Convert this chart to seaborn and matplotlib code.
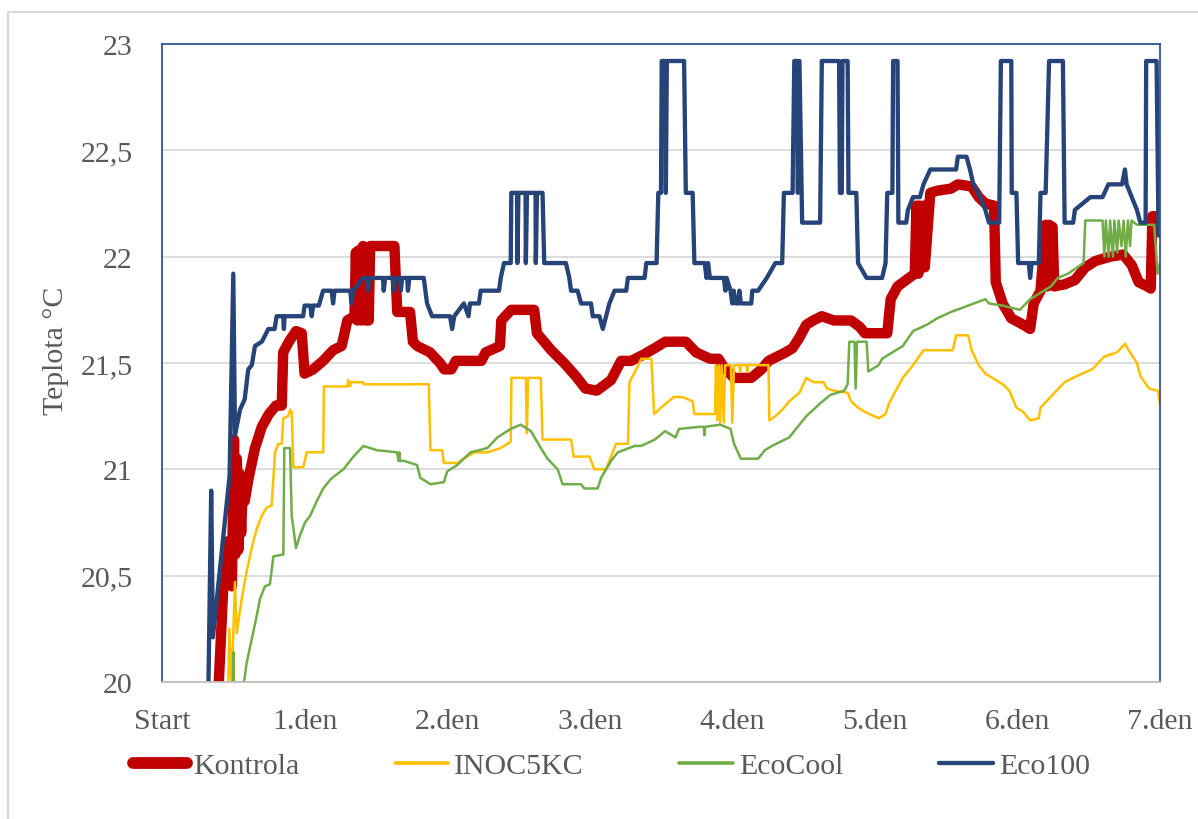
import matplotlib
matplotlib.use("Agg")
import matplotlib.pyplot as plt
import seaborn as sns
import pandas as pd
from matplotlib.lines import Line2D

# ---------------- data ----------------
tick_labels = ["Start", "1.den", "2.den", "3.den", "4.den", "5.den", "6.den", "7.den"]
y_ticks = [20, 20.5, 21, 21.5, 22, 22.5, 23]
y_tick_labels = ["20", "20,5", "21", "21,5", "22", "22,5", "23"]
series_names = ["Kontrola", "INOC5KC", "EcoCool", "Eco100"]

kontrola_day = [0.395, 0.43, 0.45, 0.474, 0.49, 0.505, 0.515, 0.525, 0.535, 0.545, 0.555, 0.565, 0.58,
                0.605, 0.652, 0.70, 0.75, 0.80, 0.84, 0.85, 0.89, 0.94, 0.98, 1.0, 1.06, 1.13, 1.2,
                1.26, 1.30, 1.35, 1.36, 1.37, 1.38, 1.40, 1.41, 1.43, 1.45, 1.46, 1.63, 1.65, 1.74,
                1.76, 1.79, 1.88, 1.95, 1.98, 2.03, 2.06, 2.24, 2.27, 2.37, 2.38, 2.45, 2.61, 2.63,
                2.73, 2.82, 2.90, 2.97, 3.05, 3.15, 3.22, 3.29, 3.38, 3.43, 3.457, 3.53, 3.674,
                3.746, 3.843, 3.903, 3.94, 4.012, 4.133, 4.205, 4.254, 4.374, 4.423, 4.471, 4.519,
                4.568, 4.628, 4.713, 4.833, 4.894, 4.93, 5.087, 5.111, 5.159, 5.22, 5.28, 5.292,
                5.305, 5.315, 5.325, 5.341, 5.35, 5.389, 5.437, 5.534, 5.582, 5.679, 5.728, 5.775,
                5.836, 5.848, 5.896, 5.957, 6.041, 6.089, 6.114, 6.162, 6.198, 6.21, 6.22, 6.246,
                6.258, 6.331, 6.403, 6.476, 6.548, 6.65, 6.742, 6.802, 6.85, 6.911, 6.935, 6.947,
                7.0]
kontrola_temp = [19.95, 20.45, 20.66, 20.66, 20.45, 21.14, 20.6, 21.05, 20.62, 20.98, 20.7, 20.9, 20.85,
                 20.95, 21.1, 21.2, 21.26, 21.3, 21.3, 21.55, 21.6, 21.65, 21.64, 21.45, 21.47, 21.51,
                 21.56, 21.58, 21.70, 21.72, 22.02, 21.70, 22.03, 21.70, 22.05, 21.70, 21.70, 22.05,
                 22.05, 21.74, 21.74, 21.60, 21.58, 21.55, 21.50, 21.47, 21.47, 21.51, 21.51, 21.55,
                 21.58, 21.70, 21.75, 21.75, 21.64, 21.56, 21.50, 21.44, 21.38, 21.37, 21.42, 21.51,
                 21.51, 21.54, 21.56, 21.57, 21.60, 21.60, 21.55, 21.52, 21.52, 21.48, 21.43, 21.43,
                 21.47, 21.51, 21.55, 21.57, 21.62, 21.68, 21.70, 21.72, 21.70, 21.70, 21.67, 21.64,
                 21.64, 21.80, 21.86, 21.89, 21.92, 22.24, 21.92, 22.24, 21.95, 22.24, 21.95, 22.30,
                 22.31, 22.32, 22.34, 22.33, 22.28, 22.25, 22.24, 21.88, 21.78, 21.71, 21.68, 21.66,
                 21.78, 21.84, 22.15, 21.86, 22.15, 22.14, 21.86, 21.87, 21.89, 21.95, 21.98, 22.0,
                 22.01, 21.96, 21.88, 21.86, 21.85, 22.19, 22.19]

inoc_day = [0.465, 0.472, 0.488, 0.512, 0.524, 0.559, 0.594, 0.629, 0.664, 0.699, 0.734, 0.769, 0.793,
            0.816, 0.840, 0.851, 0.886, 0.898, 0.910, 0.921, 0.991, 1.015, 1.131, 1.136, 1.30, 1.305,
            1.32, 1.325, 1.41, 1.415, 1.871, 1.883, 1.965, 1.977, 2.07, 2.141, 2.188, 2.282, 2.376,
            2.446, 2.451, 2.552, 2.559, 2.568, 2.657, 2.669, 2.869, 2.887, 2.998, 3.033, 3.115, 3.138,
            3.185, 3.268, 3.279, 3.326, 3.362, 3.432, 3.452, 3.50, 3.553, 3.589, 3.65, 3.722, 3.734,
            3.879, 3.885, 3.895, 3.905, 3.915, 3.925, 3.94, 3.95, 3.99, 4.0, 4.012, 4.05, 4.055, 4.06,
            4.10, 4.105, 4.11, 4.254, 4.26, 4.302, 4.35, 4.40, 4.471, 4.519, 4.568, 4.640, 4.664, 4.713,
            4.809, 4.833, 4.882, 4.930, 5.027, 5.075, 5.099, 5.147, 5.196, 5.268, 5.341, 5.546, 5.570,
            5.655, 5.679, 5.728, 5.775, 5.824, 5.896, 5.944, 5.993, 6.041, 6.089, 6.150, 6.162, 6.246,
            6.331, 6.452, 6.524, 6.609, 6.698, 6.754, 6.790, 6.838, 6.862, 6.923, 6.983, 7.0]
inoc_temp = [19.98, 20.25, 19.98, 20.47, 20.23, 20.39, 20.52, 20.63, 20.72, 20.78, 20.82, 20.83, 21.08,
             21.12, 21.12, 21.24, 21.25, 21.28, 21.27, 21.01, 21.01, 21.08, 21.08, 21.39, 21.39, 21.42,
             21.39, 21.41, 21.41, 21.40, 21.40, 21.09, 21.09, 21.03, 21.03, 21.06, 21.08, 21.08, 21.10,
             21.13, 21.43, 21.43, 21.17, 21.43, 21.43, 21.14, 21.14, 21.06, 21.06, 21.00, 21.00, 21.04,
             21.12, 21.12, 21.41, 21.47, 21.52, 21.52, 21.26, 21.29, 21.32, 21.34, 21.34, 21.32, 21.26,
             21.26, 21.49, 21.23, 21.49, 21.22, 21.49, 21.22, 21.49, 21.49, 21.22, 21.49, 21.49, 21.46,
             21.49, 21.49, 21.46, 21.49, 21.49, 21.23, 21.25, 21.28, 21.32, 21.36, 21.43, 21.41, 21.41,
             21.38, 21.37, 21.36, 21.32, 21.29, 21.27, 21.24, 21.26, 21.31, 21.37, 21.43, 21.49, 21.56,
             21.56, 21.63, 21.63, 21.56, 21.49, 21.45, 21.43, 21.40, 21.37, 21.29, 21.27, 21.23, 21.24,
             21.29, 21.35, 21.41, 21.45, 21.47, 21.53, 21.55, 21.59, 21.55, 21.50, 21.44, 21.38, 21.37,
             21.31]

ecocool_day = [0.497, 0.50, 0.505, 0.571, 0.594, 0.629, 0.664, 0.687, 0.722, 0.757, 0.781, 0.851, 0.858,
               0.898, 0.910, 0.940, 0.968, 1.003, 1.038, 1.085, 1.131, 1.178, 1.213, 1.272, 1.343, 1.413,
               1.507, 1.648, 1.66, 1.665, 1.67, 1.695, 1.789, 1.812, 1.883, 1.977, 2.0, 2.07, 2.164,
               2.282, 2.352, 2.446, 2.516, 2.587, 2.657, 2.704, 2.775, 2.810, 2.939, 2.962, 3.056, 3.080,
               3.150, 3.197, 3.315, 3.36, 3.457, 3.529, 3.601, 3.626, 3.771, 3.80, 3.805, 3.81, 3.915,
               3.988, 4.012, 4.060, 4.181, 4.229, 4.278, 4.399, 4.471, 4.519, 4.568, 4.616, 4.688, 4.785,
               4.809, 4.821, 4.857, 4.865, 4.875, 4.942, 4.954, 5.027, 5.051, 5.123, 5.196, 5.268, 5.365,
               5.437, 5.534, 5.655, 5.775, 5.800, 5.896, 6.017, 6.089, 6.162, 6.234, 6.283, 6.355, 6.464,
               6.476, 6.597, 6.61, 6.62, 6.64, 6.65, 6.67, 6.68, 6.70, 6.71, 6.73, 6.745, 6.76, 6.775,
               6.79, 6.80, 6.838, 6.959, 6.983, 7.0]
ecocool_temp = [19.98, 20.14, 19.98, 19.98, 20.09, 20.20, 20.31, 20.39, 20.45, 20.46, 20.59, 20.60, 21.10,
                21.10, 20.78, 20.63, 20.69, 20.75, 20.78, 20.85, 20.91, 20.95, 20.97, 21.00, 21.06, 21.11,
                21.09, 21.08, 21.04, 21.08, 21.04, 21.04, 21.02, 20.96, 20.93, 20.94, 20.99, 21.02, 21.08,
                21.10, 21.15, 21.19, 21.21, 21.18, 21.10, 21.05, 21.00, 20.93, 20.93, 20.91, 20.91, 20.96,
                21.04, 21.08, 21.11, 21.11, 21.14, 21.18, 21.15, 21.19, 21.20, 21.20, 21.16, 21.20, 21.21,
                21.19, 21.12, 21.05, 21.05, 21.09, 21.11, 21.15, 21.21, 21.25, 21.28, 21.31, 21.35, 21.37,
                21.40, 21.60, 21.60, 21.38, 21.60, 21.60, 21.46, 21.49, 21.52, 21.55, 21.58, 21.65, 21.68,
                21.71, 21.74, 21.77, 21.80, 21.78, 21.77, 21.75, 21.80, 21.83, 21.86, 21.90, 21.92, 21.97,
                22.17, 22.17, 22.00, 22.17, 22.00, 22.17, 22.00, 22.17, 22.02, 22.17, 22.05, 22.17, 22.00,
                22.17, 22.05, 22.17, 22.15, 22.15, 21.92, 21.97]

eco100_day = [0.325, 0.345, 0.357, 0.474, 0.50, 0.512, 0.547, 0.58, 0.605, 0.63, 0.652, 0.70, 0.746, 0.79,
              0.804, 0.85, 0.855, 0.86, 0.99, 1.0, 1.04, 1.05, 1.06, 1.10, 1.13, 1.19, 1.20, 1.21, 1.32,
              1.33, 1.34, 1.41, 1.44, 1.445, 1.455, 1.55, 1.555, 1.565, 1.62, 1.625, 1.635, 1.67, 1.675,
              1.685, 1.72, 1.725, 1.735, 1.836, 1.859, 1.894, 2.02,
              2.035, 2.05, 2.117, 2.15, 2.16, 2.223, 2.235, 2.364, 2.376, 2.399, 2.446, 2.45, 2.49, 2.493,
              2.50, 2.55, 2.552, 2.56, 2.62, 2.622, 2.63, 2.669, 2.681, 2.833, 2.857, 2.869, 2.915, 2.939,
              3.009, 3.021, 3.068, 3.092, 3.115, 3.138, 3.174, 3.256, 3.268, 3.385, 3.397, 3.469, 3.481,
              3.50, 3.505, 3.529, 3.534, 3.541, 3.553, 3.662, 3.674, 3.722, 3.734, 3.807, 3.819, 3.83,
              3.843, 3.94, 3.952, 3.96, 3.988, 4.0, 4.01, 4.024, 4.04, 4.05, 4.06, 4.133, 4.14, 4.181,
              4.242, 4.302, 4.350, 4.362, 4.423, 4.435, 4.455, 4.46, 4.465, 4.471, 4.49, 4.616, 4.628,
              4.749, 4.755, 4.768, 4.773, 4.809, 4.815, 4.870, 4.882, 4.942, 5.051, 5.075, 5.087, 5.123,
              5.128, 5.159, 5.165, 5.220, 5.232, 5.268, 5.316, 5.341, 5.389, 5.570, 5.582, 5.643, 5.667,
              5.691, 5.739, 5.775, 5.800, 5.872, 5.884, 5.957, 5.96, 5.993, 6.005, 6.08, 6.089, 6.10,
              6.150, 6.162, 6.198, 6.222, 6.319, 6.331, 6.391, 6.403, 6.512, 6.597, 6.638, 6.734, 6.754,
              6.766, 6.802, 6.838, 6.862, 6.899, 6.903, 6.976, 6.99, 7.0]
eco100_temp = [19.95, 20.90, 20.21, 20.97, 21.92, 21.16, 21.28, 21.33, 21.47, 21.49, 21.58, 21.60, 21.66,
               21.66, 21.72, 21.72, 21.66, 21.72, 21.72, 21.77, 21.77, 21.72, 21.77, 21.77, 21.84, 21.84,
               21.78, 21.84, 21.84, 21.78, 21.84, 21.90, 21.90, 21.84, 21.90, 21.90, 21.84, 21.90, 21.90,
               21.84, 21.90, 21.90, 21.84, 21.90, 21.90, 21.84, 21.90,
               21.90, 21.78, 21.72, 21.72, 21.66, 21.72, 21.78, 21.72, 21.78, 21.78, 21.84, 21.84,
               21.90, 21.97, 21.97, 22.30, 22.30, 21.97, 22.30, 22.30, 21.97, 22.30, 22.30, 21.97, 22.30,
               22.30, 21.97, 21.97, 21.90, 21.84, 21.84, 21.78, 21.78, 21.72, 21.72, 21.66, 21.72, 21.78,
               21.84, 21.84, 21.90, 21.90, 21.97, 21.97, 22.30, 22.30, 22.92, 22.92, 22.30, 22.92, 22.92,
               22.92, 22.30, 22.30, 21.97, 21.97, 21.90, 21.97, 21.90, 21.90, 21.84, 21.90, 21.84, 21.78,
               21.84, 21.78, 21.78, 21.84, 21.78, 21.78, 21.84, 21.84, 21.90, 21.97, 21.97, 22.30, 22.30,
               22.92, 22.92, 22.30, 22.92, 22.92, 22.16, 22.16, 22.92, 22.92, 22.30, 22.30, 22.92, 22.92,
               22.30, 22.30, 21.97, 21.90, 21.90, 21.97, 22.30, 22.30, 22.92, 22.92, 22.16, 22.16, 22.22,
               22.28, 22.28, 22.34, 22.41, 22.41, 22.47, 22.47, 22.41, 22.34, 22.28, 22.22, 22.16, 22.16,
               22.92, 22.92, 22.30, 22.30, 21.97, 21.97, 21.90, 21.97, 21.97, 22.30, 22.30, 22.92, 22.92,
               22.16, 22.16, 22.22, 22.28, 22.28, 22.34, 22.34, 22.41, 22.34, 22.28, 22.22, 22.16, 22.16,
               22.92, 22.92, 22.10, 22.10]

colors = {"Kontrola": "#C00000", "INOC5KC": "#FFC000", "EcoCool": "#70AD47", "Eco100": "#264478"}
widths = {"Kontrola": 7.5, "INOC5KC": 1.8, "EcoCool": 1.8, "Eco100": 3.1}
legend_widths = {"Kontrola": 8.5, "INOC5KC": 2.6, "EcoCool": 2.6, "Eco100": 3.1}

# ---------------- plot ----------------
sns.set_theme(style="white")
plt.rcParams["font.family"] = ["Liberation Serif", "DejaVu Serif"]
text_color = "#595959"

fig = plt.figure(figsize=(11.98, 8.20), dpi=100)
ax = fig.add_axes([162 / 1198, 1 - 683 / 820, (1160 - 162) / 1198, (683 - 45) / 820])

frames = [
    ("Kontrola", kontrola_day, kontrola_temp),
    ("INOC5KC", inoc_day, inoc_temp),
    ("EcoCool", ecocool_day, ecocool_temp),
    ("Eco100", eco100_day, eco100_temp),
]
for name, d, t in frames:
    df = pd.DataFrame({"day": d, "temp": t})
    sns.lineplot(data=df, x="day", y="temp", ax=ax, sort=False, estimator=None,
                 color=colors[name], linewidth=widths[name],
                 solid_joinstyle="round", solid_capstyle="round", legend=False)

ax.set_xlim(0, 7)
ax.set_ylim(20, 23)
ax.set_xticks(range(len(tick_labels)))
ax.set_xticklabels(tick_labels)
ax.set_yticks(y_ticks)
ax.set_yticklabels(y_tick_labels)
ax.grid(axis="y", color="#D9D9D9", linewidth=1.3)
ax.grid(axis="x", visible=False)
ax.set_axisbelow(True)

for s in ["left", "top", "right"]:
    ax.spines[s].set_color("#2F5597")
    ax.spines[s].set_linewidth(1.3)
ax.spines["bottom"].set_color("#BFBFBF")
ax.spines["bottom"].set_linewidth(1.3)

ax.tick_params(axis="x", direction="in", length=6, width=1.2, color="#BFBFBF",
               labelsize=21.5, labelcolor=text_color, pad=19)
ax.tick_params(axis="y", length=0, labelsize=21.5, labelcolor=text_color, pad=21)

ax.set_xlabel("")
ax.set_ylabel("Teplota °C", fontsize=21.5, color=text_color)
ax.yaxis.set_label_coords(-0.093, 0.52)

handles = [Line2D([0], [0], color=colors[n], linewidth=legend_widths[n], solid_capstyle="round")
           for n in series_names]
leg = fig.legend(handles, series_names, loc="center left",
                 bbox_to_anchor=(133 / 1198, 1 - 767 / 820), ncol=4, frameon=False,
                 fontsize=21.5, handlelength=1.8, handletextpad=0.2, columnspacing=3.2,
                 borderpad=0, borderaxespad=0)
for t in leg.get_texts():
    t.set_color(text_color)

# outer chart border (light gray, visible on left and top)
fig.add_artist(Line2D([8 / 1198, 8 / 1198], [0, 1 - 13 / 820], transform=fig.transFigure,
                      color="#D9D9D9", linewidth=1.5))
fig.add_artist(Line2D([8 / 1198, 1], [1 - 13 / 820, 1 - 13 / 820], transform=fig.transFigure,
                      color="#D9D9D9", linewidth=1.5))

fig.savefig("out.png", dpi=100)
